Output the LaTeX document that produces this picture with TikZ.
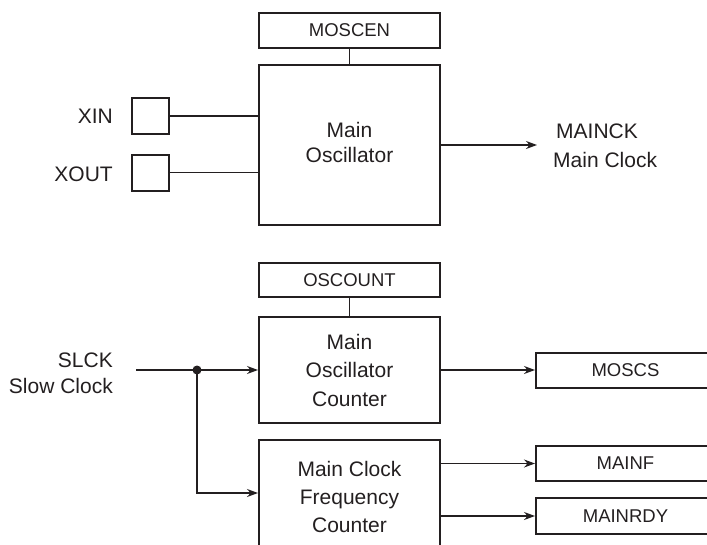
\documentclass[tikz,border=0pt]{standalone}
\usepackage{fontspec}
\setmainfont{Liberation Sans}
\usetikzlibrary{arrows.meta}
\definecolor{ink}{RGB}{35,31,32}
\begin{document}
\begin{tikzpicture}[x=1pt,y=-1pt,
  blk/.style={draw=ink,line width=2pt,rectangle,inner sep=0pt,align=center,text=ink,
    font=\fontsize{21}{25}\selectfont},
  reg/.style={draw=ink,line width=2pt,rectangle,inner sep=0pt,text=ink,
    font=\fontsize{18.5}{22}\selectfont},
  lbl/.style={inner sep=0pt,text=ink,font=\fontsize{21}{25}\selectfont},
  wire/.style={draw=ink,line width=1.1pt},
  arr/.style={wire,-{Stealth[length=11pt,width=8pt]}}]
\useasboundingbox (0,0) rectangle (707,544);
% top part
\node[reg,minimum width=181pt,minimum height=35pt] (moscen) at (349.5,30.5) {MOSCEN};
\node[draw=ink,line width=2pt,rectangle,inner sep=0pt,text=ink,font=\fontsize{21}{25}\selectfont,minimum width=181pt,minimum height=160pt] (mosc) at (349.5,145) {\raisebox{5pt}{\begin{tabular}{@{}c@{}}Main\\Oscillator\end{tabular}}};
\node[draw=ink,line width=2pt,rectangle,minimum width=37pt,minimum height=36pt,inner sep=0pt] (xin) at (150.5,116) {};
\node[draw=ink,line width=2pt,rectangle,minimum width=37pt,minimum height=36pt,inner sep=0pt] (xout) at (150.5,172.5) {};
\node[lbl,anchor=base east] (xinl) at (113,123) {XIN};
\node[lbl,anchor=base east] (xoutl) at (113,181) {XOUT};
\node[lbl,anchor=base west] (mainck) at (556,138) {MAINCK};
\node[lbl,anchor=base west] (mainclk) at (553,167) {Main Clock};
\coordinate (ckend) at (537,145);
\draw[wire] (moscen.south) -- (mosc.north);
\draw[wire] (xin.east) -- (xin.east -| mosc.west);
\draw[wire] (xout.east) -- (xout.east -| mosc.west);
\draw[arr] (mosc.east) -- (ckend);
% bottom part
\node[reg,minimum width=181pt,minimum height=34pt] (oscount) at (349.5,280) {OSCOUNT};
\node[blk,minimum width=181pt,minimum height=106pt,font=\fontsize{21}{28.5}\selectfont] (cnt) at (349.5,370) {Main\\Oscillator\\Counter};
\node[blk,minimum width=181pt,minimum height=114pt,font=\fontsize{21}{28}\selectfont] (freq) at (349.5,497) {Main Clock\\Frequency\\Counter};
\node[reg,minimum width=179pt,minimum height=35pt] (moscs) at (625.5,370) {MOSCS};
\node[reg,minimum width=179pt,minimum height=35pt] (mainf) at (625.5,463.5) {MAINF};
\node[reg,minimum width=179pt,minimum height=36pt] (mainrdy) at (625.5,516) {MAINRDY};
\node[lbl,anchor=base east] (slck) at (113,367) {SLCK};
\node[lbl,anchor=base east] (slow) at (113,393) {Slow Clock};
\coordinate (slin) at (136,370);
\coordinate (split) at (197,370);
\draw[wire] (oscount.south) -- (cnt.north);
\draw[arr] (slin) -- (cnt.west);
\draw[arr] (split) |- (freq.west |- 0,493);
\fill[ink] (split) circle (4.5pt);
\draw[arr] (cnt.east) -- (moscs.west);
\draw[arr] (freq.east |- mainf.west) -- (mainf.west);
\draw[arr] (freq.east |- mainrdy.west) -- (mainrdy.west);
\end{tikzpicture}
\end{document}
